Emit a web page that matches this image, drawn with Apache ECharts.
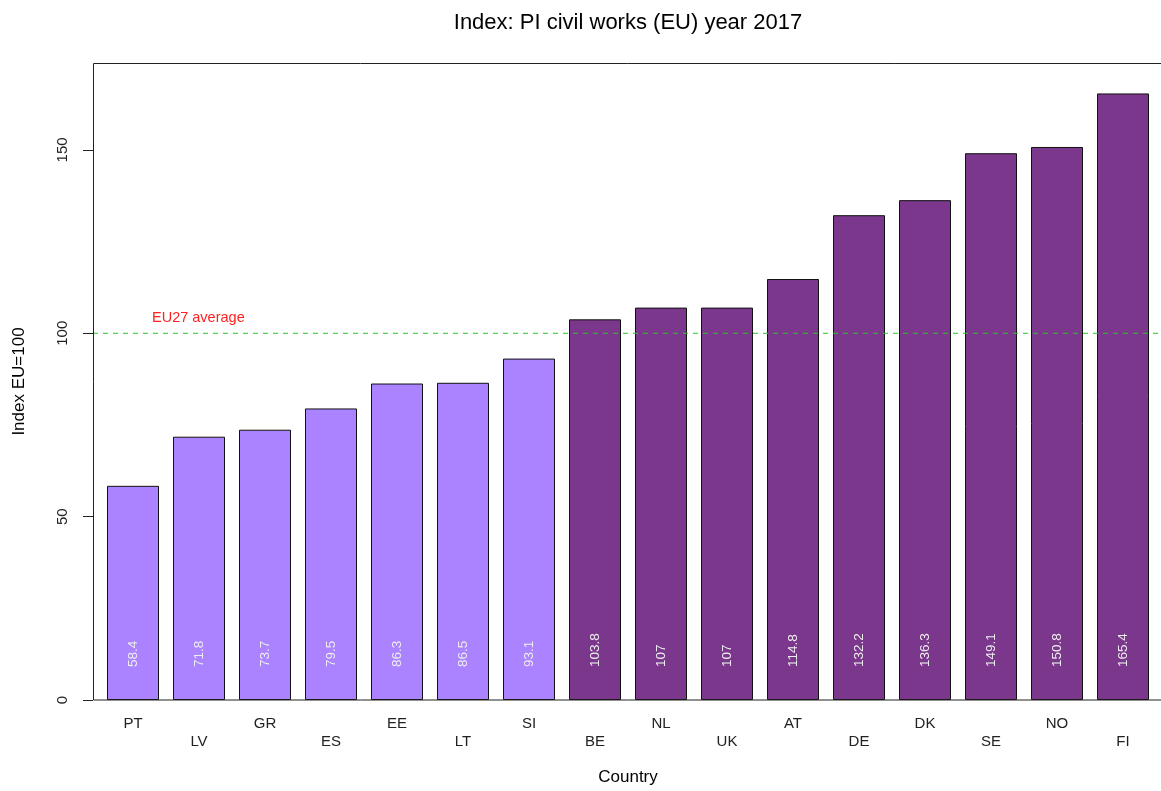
<!DOCTYPE html>
<html>
<head>
<meta charset="utf-8">
<script src="https://cdn.jsdelivr.net/npm/echarts@6/dist/echarts.min.js"></script>
<style>html,body{margin:0;padding:0;background:#fff}#c{width:1161px;height:791px}</style>
</head>
<body>
<div id="c"></div>
<script>
const categories = ['PT','LV','GR','ES','EE','LT','SI','BE','NL','UK','AT','DE','DK','SE','NO','FI'];
const values = [58.4,71.8,73.7,79.5,86.3,86.5,93.1,103.8,107,107,114.8,132.2,136.3,149.1,150.8,165.4];
const yTicks = [0,50,100,150];
const average = 100;
const averageLabel = 'EU27 average';
const FONT = 'Liberation Sans';
const lowColor = '#AB82FF', highColor = '#7A378B';
const yMax = 173.7;

const chart = echarts.init(document.getElementById('c'), null, {renderer:'canvas'});
chart.setOption({
  animation: false,
  textStyle: {fontFamily: FONT},
  title: {
    text: 'Index: PI civil works (EU) year 2017',
    left: 623, top: 7, textAlign: 'center',
    textStyle: {fontFamily: FONT, fontSize: 22, fontWeight: 'normal', color: '#000'}
  },
  graphic: [{
    type: 'rect', z: 100, silent: true,
    shape: {x: 93.5, y: 63.5, width: 1080, height: 636.5},
    style: {fill: 'none', stroke: '#222', lineWidth: 1}
  }],
  grid: [
    {left: 100, top: 63, width: 1056, height: 637, containLabel: false, outerBoundsMode: 'none'},
    {left: 93, top: 63, width: 1068, height: 637, containLabel: false, outerBoundsMode: 'none'}
  ],
  xAxis: [{
    type: 'category', data: categories, gridIndex: 0,
    name: 'Country', nameLocation: 'middle', nameGap: 69,
    nameTextStyle: {fontFamily: FONT, fontSize: 17, color: '#000'},
    axisLine: {show: false},
    axisTick: {alignWithLabel: true, length: 11, lineStyle: {color: '#222'}},
    axisLabel: {
      interval: 0, margin: 15, fontSize: 15, color: '#222', fontFamily: FONT, lineHeight: 18,
      formatter: (v, i) => (i % 2 === 1 ? '\n' + v : v)
    }
  }, {
    type: 'value', gridIndex: 1, min: 0, max: 1, show: false
  }],
  yAxis: [{
    type: 'value', min: 0, max: yMax, interval: 50, offset: 7, gridIndex: 0,
    name: 'Index EU=100', nameLocation: 'middle', nameGap: 65,
    nameTextStyle: {fontFamily: FONT, fontSize: 17, color: '#000'},
    splitLine: {show: false},
    axisLine: {show: false},
    axisTick: {show: true, length: 10, customValues: yTicks, lineStyle: {color: '#222'}},
    axisLabel: {rotate: 90, margin: 23, fontSize: 15, color: '#222', fontFamily: FONT, customValues: yTicks}
  }, {
    type: 'value', gridIndex: 1, min: 0, max: yMax, show: false
  }],
  series: [{
    type: 'bar', xAxisIndex: 0, yAxisIndex: 0, z: 2,
    data: values.map(v => ({value: v, itemStyle: {color: v < average ? lowColor : highColor}})),
    barWidth: 52,
    itemStyle: {borderColor: '#111', borderWidth: 1},
    label: {
      show: true, position: 'insideBottom', rotate: 90, distance: 33,
      align: 'left', verticalAlign: 'middle',
      color: '#eeeeee', fontSize: 13.5, fontFamily: FONT,
      formatter: p => String(p.value)
    }
  }, {
    type: 'line', xAxisIndex: 1, yAxisIndex: 1, z: 5, silent: true,
    symbol: 'circle', symbolSize: 0, showSymbol: true,
    lineStyle: {type: [5, 5], color: '#22cc22', width: 1},
    itemStyle: {color: '#22cc22'},
    data: [
      {value: [0, average], label: {show: true, formatter: averageLabel, position: 'right', offset: [54, -15],
        color: '#ff2222', fontSize: 14.5, fontFamily: FONT}},
      [1, average]
    ]
  }]
});
</script>
</body>
</html>
